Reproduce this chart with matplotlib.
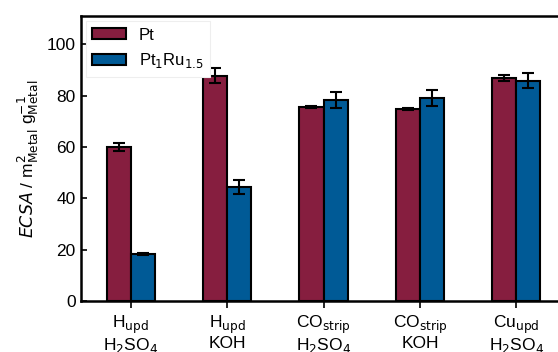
import matplotlib
matplotlib.use("Agg")
import matplotlib.pyplot as plt
import numpy as np

# values
categories = ["H$_\\mathrm{upd}$\nH$_2$SO$_4$",
              "H$_\\mathrm{upd}$\nKOH",
              "CO$_\\mathrm{strip}$\nH$_2$SO$_4$",
              "CO$_\\mathrm{strip}$\nKOH",
              "Cu$_\\mathrm{upd}$\nH$_2$SO$_4$"]
pt_vals = [60.1, 87.8, 75.6, 74.7, 86.7]
pt_err = [1.6, 2.8, 0.4, 0.3, 1.2]
ptru_vals = [18.4, 44.4, 78.4, 79.1, 85.8]
ptru_err = [0.3, 2.7, 3.1, 3.1, 2.9]

plt.rcParams['font.family'] = ['Liberation Sans', 'DejaVu Sans']
plt.rcParams['mathtext.fontset'] = 'dejavusans'
plt.rcParams['font.size'] = 12.5

fig = plt.figure(figsize=(5.58, 3.52), dpi=100)
# axes runs a bit past the right edge, like the cropped original
ax = fig.add_axes([80.5/558, 51/352, 486/558, 285/352])

x = np.arange(len(categories))
w = 0.25
ax.bar(x - w/2, pt_vals, w, yerr=pt_err, color="#861E3F", edgecolor="black",
       linewidth=1.5, capsize=4, error_kw=dict(elinewidth=1.5, capthick=1.5),
       label="Pt")
ax.bar(x + w/2, ptru_vals, w, yerr=ptru_err, color="#005A96", edgecolor="black",
       linewidth=1.5, capsize=4, error_kw=dict(elinewidth=1.5, capthick=1.5),
       label="Pt$_1$Ru$_{1.5}$")

ax.set_xlim(-0.52, 4.52)
ax.set_ylim(0, 111)
ax.set_xticks(x)
ax.set_xticklabels(categories, linespacing=1.05)
ax.set_yticks([0, 20, 40, 60, 80, 100])
ax.tick_params(axis='y', direction='in', length=4, width=1.2)
ax.tick_params(axis='x', direction='out', length=5, width=1.2, pad=4)
for s in ax.spines.values():
    s.set_linewidth(1.8)

ax.set_ylabel("$ECSA$ / m$^2_\\mathrm{Metal}$ g$^{-1}_\\mathrm{Metal}$")

leg = ax.legend(loc="upper left", fancybox=False, handlelength=2.0,
                handleheight=0.65, borderaxespad=0.3, framealpha=1,
                fontsize=12)
leg.get_frame().set_edgecolor("#eeeeee")
leg.get_frame().set_linewidth(0.8)

fig.savefig("out.png", dpi=100)
